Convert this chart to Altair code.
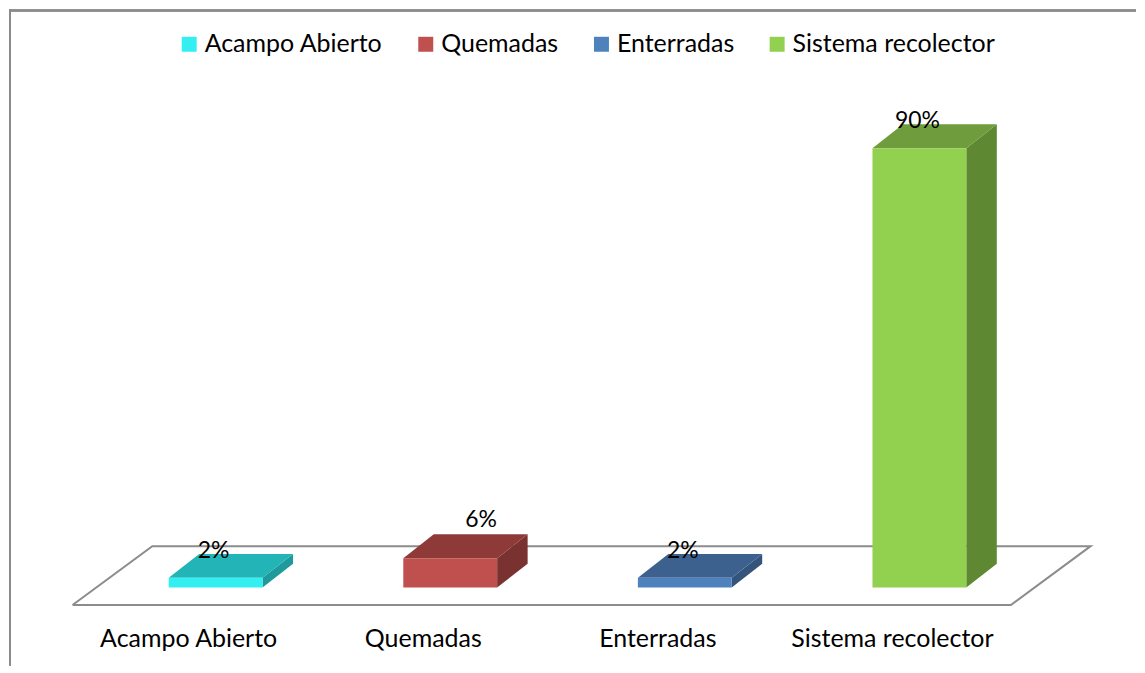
import altair as alt
import pandas as pd

# ---- data ----
categories = ["Acampo Abierto", "Quemadas", "Enterradas", "Sistema recolector"]
values = [2, 6, 2, 90]
labels = ["2%", "6%", "2%", "90%"]

# ---- styles ----
front_colors = ["#33EFF2", "#C0504D", "#4F81BD", "#92D050"]
top_colors = ["#22B4B6", "#8E3A38", "#3C618F", "#6F9D3D"]
side_colors = ["#1F9A9C", "#7A3230", "#34547C", "#5E8831"]
FONT = "Lato"

# ---- 3D geometry (in data units) ----
HW = 0.2      # half bar width (category slots = 1)
DX = 0.13     # bar depth, horizontal
DY = 4.9      # bar depth, vertical (percent units)
F_LEFT, F_RIGHT = -0.44, 3.56   # floor extent at bar mid-depth plane
F_DX, F_DY = 0.17, 6.03         # floor half depth
F_MID = DY / 2

W, H = 1129, 657
xs = alt.Scale(domain=[-0.88085, 3.92340], range=[0, W], nice=False, zero=False)
ys = alt.Scale(domain=[-15.951, 118.405], range=[H, 0], nice=False, zero=False)

rows, top_rows, side_rows = [], [], []
for i, (c, v, lab) in enumerate(zip(categories, values, labels)):
    rows.append(dict(cat=c, x0=i - HW, x1=i + HW, y0=0, y1=v, xc=i, ylab=v + DY,
                     label=lab, xaxis=i - 0.115))
    top_rows.append(dict(cat=c, y=v, xa=i - HW, xb=i + HW))
    top_rows.append(dict(cat=c, y=v + DY, xa=i - HW + DX, xb=i + HW + DX))
    side_rows.append(dict(cat=c, x=i + HW, ya=0, yb=v))
    side_rows.append(dict(cat=c, x=i + HW + DX, ya=DY, yb=v + DY))
bars = pd.DataFrame(rows)
tops = pd.DataFrame(top_rows)
sides = pd.DataFrame(side_rows)

floor = pd.DataFrame([
    dict(o=0, x=F_LEFT - F_DX, y=F_MID - F_DY),
    dict(o=1, x=F_RIGHT - F_DX, y=F_MID - F_DY),
    dict(o=2, x=F_RIGHT + F_DX, y=F_MID + F_DY),
    dict(o=3, x=F_LEFT + F_DX, y=F_MID + F_DY),
    dict(o=4, x=F_LEFT - F_DX, y=F_MID - F_DY),
])

floor_layer = alt.Chart(floor).mark_line(color="#8C8C8C", strokeWidth=2).encode(
    x=alt.X("x:Q", scale=xs, axis=None),
    y=alt.Y("y:Q", scale=ys, axis=None),
    order="o:Q",
)

side_layer = alt.Chart(sides).mark_area(orient="vertical", opacity=1).encode(
    x=alt.X("x:Q", scale=xs, axis=None),
    y=alt.Y("ya:Q", scale=ys, axis=None),
    y2="yb:Q",
    detail="cat:N",
    color=alt.Color("cat:N", scale=alt.Scale(domain=categories, range=side_colors), legend=None),
)

top_layer = alt.Chart(tops).mark_area(orient="horizontal", opacity=1).encode(
    y=alt.Y("y:Q", scale=ys, axis=None),
    x=alt.X("xa:Q", scale=xs, axis=None),
    x2="xb:Q",
    detail="cat:N",
    color=alt.Color("cat:N", scale=alt.Scale(domain=categories, range=top_colors), legend=None),
)

front_layer = alt.Chart(bars).mark_rect().encode(
    x=alt.X("x0:Q", scale=xs, axis=None),
    x2="x1:Q",
    y=alt.Y("y0:Q", scale=ys, axis=None),
    y2="y1:Q",
    color=alt.Color(
        "cat:N",
        scale=alt.Scale(domain=categories, range=front_colors),
        legend=alt.Legend(
            title=None, orient="none", legendX=168, legendY=22, direction="horizontal",
            symbolType="square", symbolSize=225, symbolStrokeWidth=0, symbolOpacity=1,
            labelFont=FONT, labelFontSize=25, labelColor="#000000", labelOffset=3,
            columnPadding=30, padding=0, labelLimit=400,
        ),
    ),
)

value_text = alt.Chart(bars).transform_filter(alt.datum.cat != "Quemadas").mark_text(
    font=FONT, fontSize=23, color="#000000", baseline="middle", dy=-3, dx=-2
).encode(
    x=alt.X("xc:Q", scale=xs, axis=None),
    y=alt.Y("ylab:Q", scale=ys, axis=None),
    text="label:N",
)

value_text_q = alt.Chart(bars).transform_filter(alt.datum.cat == "Quemadas").mark_text(
    font=FONT, fontSize=23, color="#000000", baseline="middle", dy=-14, dx=31
).encode(
    x=alt.X("xc:Q", scale=xs, axis=None),
    y=alt.Y("ylab:Q", scale=ys, axis=None),
    text="label:N",
)

axis_text = alt.Chart(bars).mark_text(
    font=FONT, fontSize=25, color="#000000", baseline="middle"
).encode(
    x=alt.X("xaxis:Q", scale=xs, axis=None),
    y=alt.Y("axis_y:Q", scale=ys, axis=None),
    text="cat:N",
).transform_calculate(axis_y="-10.63")

border_left = alt.Chart(bars).mark_rule(color="#8C8C8C", strokeWidth=2).encode(
    x=alt.value(1), y=alt.value(0), y2=alt.value(H)
)
border_top = alt.Chart(bars).mark_rule(color="#8C8C8C", strokeWidth=2).encode(
    x=alt.value(0), x2=alt.value(W), y=alt.value(1)
)

chart = alt.layer(
    floor_layer, side_layer, top_layer, front_layer, value_text, value_text_q, axis_text,
    border_left, border_top,
).resolve_scale(color="independent").properties(
    width=W, height=H, padding=0, background="white"
).configure_view(stroke=None)

chart.save("out.html", embed_options={"renderer": "svg", "actions": False})
